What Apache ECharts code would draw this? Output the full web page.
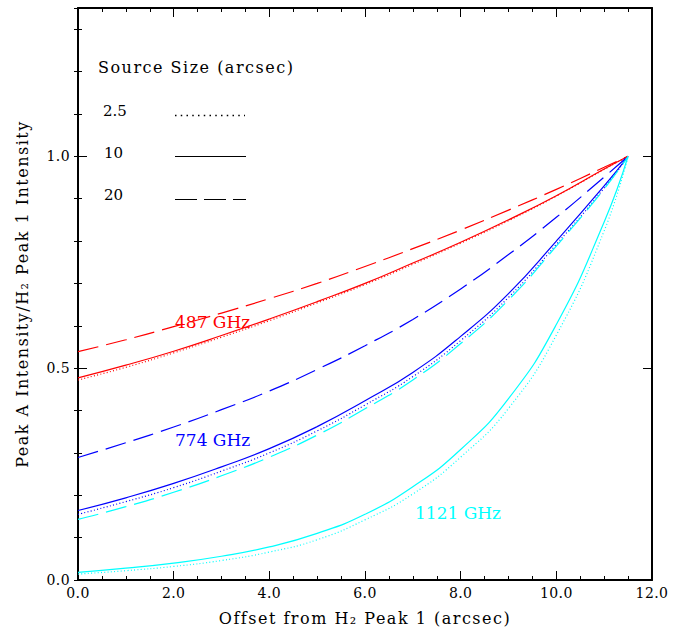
<!DOCTYPE html>
<html>
<head>
<meta charset="utf-8">
<script src="https://cdn.jsdelivr.net/npm/echarts@6/dist/echarts.min.js"></script>
<style>
html,body{margin:0;padding:0;background:#fff;}
#chart{width:685px;height:629px;}
#chart text{letter-spacing:1.5px;}
#chart text[style*="14px"]{letter-spacing:0.4px;}
#chart text[style*="15px"], #chart text[style*="17px"]{letter-spacing:0;}
</style>
</head>
<body>
<div id="chart"></div>
<script>
// Offsets (arcsec)
var offsets = [0, 1, 2, 3, 4, 5, 6, 7, 8, 9, 10, 11, 11.5];
// 487 GHz
var red_2_5 = [0.472,0.502,0.536,0.573,0.612,0.654,0.697,0.745,0.795,0.848,0.906,0.969,1.0];
var red_10  = [0.477,0.507,0.540,0.577,0.616,0.657,0.700,0.748,0.797,0.850,0.907,0.970,1.0];
var red_20  = [0.539,0.567,0.598,0.630,0.664,0.700,0.740,0.782,0.826,0.873,0.922,0.974,1.0];
// 774 GHz
var blue_2_5 = [0.155,0.185,0.218,0.257,0.300,0.352,0.413,0.480,0.565,0.667,0.792,0.925,1.0];
var blue_10  = [0.164,0.194,0.228,0.267,0.310,0.362,0.423,0.490,0.575,0.676,0.800,0.930,1.0];
var blue_20  = [0.289,0.324,0.361,0.402,0.446,0.497,0.553,0.615,0.687,0.768,0.856,0.951,1.0];
// 1121 GHz
var cyan_2_5 = [0.014,0.022,0.032,0.046,0.066,0.095,0.142,0.203,0.290,0.405,0.578,0.824,1.0];
var cyan_10  = [0.018,0.028,0.040,0.056,0.078,0.110,0.155,0.220,0.308,0.428,0.603,0.845,1.0];
var cyan_20  = [0.143,0.173,0.207,0.246,0.290,0.342,0.404,0.472,0.558,0.661,0.788,0.923,1.0];

var xTickLabels = ['0.0','2.0','4.0','6.0','8.0','10.0','12.0'];
var yTickLabels = {0:'0.0', 0.5:'0.5', 1:'1.0'};
var legendTitle = 'Source Size (arcsec)';
var legendSizes = ['2.5', '10', '20'];
var freqLabels = ['487 GHz', '774 GHz', '1121 GHz'];

var FONT = '"DejaVu Serif", serif';
var DOT = [1, 2.3];
var DASH = [21, 8];

function pairs(ys){ return offsets.map(function(x,i){ return [x, ys[i]]; }); }
function line(name, ys, color, dash){
  return {
    name: name, type: 'line', data: pairs(ys), smooth: true, symbol: 'none',
    xAxisIndex: 0, yAxisIndex: 0, silent: true,
    lineStyle: {color: color, width: 1.2, type: dash || 'solid'}
  };
}

var chart = echarts.init(document.getElementById('chart'), null, {renderer: 'svg'});

var xBase = {
  type: 'value', min: 0, max: 12, interval: 2,
  axisLine: {show: true, onZero: false, lineStyle: {color: '#000', width: 2}},
  axisTick: {show: true, inside: true, length: 9, lineStyle: {color: '#000', width: 1}},
  minorTick: {show: true, splitNumber: 4, length: 4, lineStyle: {color: '#000', width: 1}},
  splitLine: {show: false}
};
var yMajor = {
  type: 'value', min: 0, max: 1.35, interval: 0.5,
  axisLine: {show: true, onZero: false, lineStyle: {color: '#000', width: 2}},
  axisTick: {show: true, inside: true, length: 9, lineStyle: {color: '#000', width: 1}},
  splitLine: {show: false}
};
var yMinor = {
  type: 'value', min: 0, max: 1.35, interval: 0.1,
  axisLine: {show: false},
  axisTick: {show: true, inside: true, length: 4, lineStyle: {color: '#000', width: 1}},
  axisLabel: {show: false},
  splitLine: {show: false}
};

var option = {
  animation: false,
  backgroundColor: '#fff',
  grid: {left: 78, right: 33, top: 8, bottom: 49, containLabel: false, outerBoundsMode: 'none'},
  xAxis: [
    Object.assign({}, xBase, {
      position: 'bottom',
      name: 'Offset from H\u2082 Peak 1 (arcsec)',
      nameLocation: 'middle', nameGap: 30,
      nameTextStyle: {color: '#000', fontFamily: FONT, fontSize: 16},
      axisLabel: {show: true, color: '#000', fontFamily: FONT, fontSize: 14, margin: 6,
        formatter: function(v){ var i = Math.round(v/2); return xTickLabels[i] || ''; }}
    }),
    Object.assign({}, xBase, {position: 'top', axisLabel: {show: false}})
  ],
  yAxis: [
    Object.assign({}, yMajor, {
      position: 'left',
      name: 'Peak A Intensity/H\u2082 Peak 1 Intensity',
      nameLocation: 'middle', nameGap: 48, nameRotate: 90,
      nameTextStyle: {color: '#000', fontFamily: FONT, fontSize: 16},
      axisLabel: {show: true, color: '#000', fontFamily: FONT, fontSize: 14, margin: 8,
        showMaxLabel: false,
        formatter: function(v){ var k = Math.round(v*10)/10; return yTickLabels[k] || ''; }}
    }),
    Object.assign({}, yMajor, {position: 'right', axisLabel: {show: false}}),
    Object.assign({}, yMinor, {position: 'left'}),
    Object.assign({}, yMinor, {position: 'right'})
  ],
  series: [
    line('487 GHz 2.5', red_2_5, '#ff0000', DOT),
    line('487 GHz 10', red_10, '#ff0000'),
    line('487 GHz 20', red_20, '#ff0000', DASH),
    line('774 GHz 2.5', blue_2_5, '#0000ff', DOT),
    line('774 GHz 10', blue_10, '#0000ff'),
    line('774 GHz 20', blue_20, '#0000ff', DASH),
    line('1121 GHz 2.5', cyan_2_5, '#00ffff', DOT),
    line('1121 GHz 10', cyan_10, '#00ffff'),
    line('1121 GHz 20', cyan_20, '#00ffff', DASH)
  ],
  graphic: [
    {type: 'text', left: 98, top: 59, style: {text: legendTitle, font: '16px ' + FONT, fill: '#000'}},
    {type: 'text', left: 103, top: 103, style: {text: legendSizes[0], font: '15px ' + FONT, fill: '#000'}},
    {type: 'text', left: 104, top: 145, style: {text: legendSizes[1], font: '15px ' + FONT, fill: '#000'}},
    {type: 'text', left: 104, top: 187, style: {text: legendSizes[2], font: '15px ' + FONT, fill: '#000'}},
    {type: 'line', shape: {x1: 175, y1: 115.5, x2: 245, y2: 115.5}, style: {stroke: '#000', lineWidth: 1.5, lineDash: [1.5, 4.25]}},
    {type: 'line', shape: {x1: 175, y1: 156.5, x2: 246, y2: 156.5}, style: {stroke: '#000', lineWidth: 1.2}},
    {type: 'line', shape: {x1: 175, y1: 199.5, x2: 246, y2: 199.5}, style: {stroke: '#000', lineWidth: 1.2, lineDash: [22, 7]}},
    {type: 'text', left: 175, top: 313, style: {text: freqLabels[0], font: '17px ' + FONT, fill: '#ff0000'}},
    {type: 'text', left: 175, top: 431.5, style: {text: freqLabels[1], font: '17px ' + FONT, fill: '#0000ff'}},
    {type: 'text', left: 415, top: 504, style: {text: freqLabels[2], font: '17px ' + FONT, fill: '#00ffff'}}
  ]
};
chart.setOption(option);
</script>
</body>
</html>
